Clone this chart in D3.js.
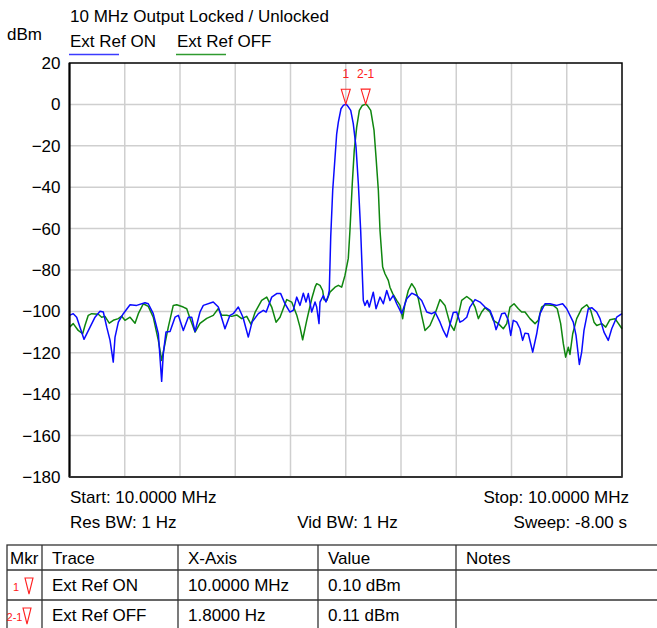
<!DOCTYPE html>
<html>
<head>
<meta charset="utf-8">
<script src="https://cdn.jsdelivr.net/npm/d3@7"></script>
<style>
  html, body { margin: 0; padding: 0; background: #fff; }
  svg { display: block; font-family: "Liberation Sans", Arial, sans-serif; }
</style>
</head>
<body>
<svg id="chart" width="657" height="628"></svg>
<script>
// Spectrum sweep around 10 MHz, frequency given as offset from centre (Hz)
const titleText = "10 MHz Output Locked / Unlocked";
const seriesNames = ["Ext Ref ON", "Ext Ref OFF"];
const seriesColors = ["#0a0aff", "#0f860f"];
const legendColors = ["#3b3bff", "#2f9a2f"];
const yTicks = [20, 0, -20, -40, -60, -80, -100, -120, -140, -160, -180];
const xGridHz = [-25, -20, -15, -10, -5, 0, 5, 10, 15, 20, 25];

// Ext Ref ON (locked)
const onFreq = [-25.0, -24.66, -24.35, -23.69, -23.14, -22.69, -22.24, -21.94, -21.63, -21.33, -21.04, -20.88, -20.58, -20.13,
  -19.52, -18.92, -18.17, -17.87, -17.42, -16.96, -16.66, -16.51, -16.27, -15.90, -15.45, -15.15, -14.70, -14.25, -13.94,
  -13.64, -13.19, -12.89, -11.99, -11.53, -10.93, -10.48, -10.18, -9.72, -9.30, -8.82, -8.48, -7.91, -7.46, -7.20, -6.70,
  -6.25, -5.89, -5.50, -5.05, -4.75, -4.44, -4.14, -3.84, -3.60, -3.39, -3.08, -2.78, -2.63, -2.42, -2.33, -2.03, -1.79,
  -1.58, -1.49, -1.36, -1.18, -0.97, -0.82, -0.67, -0.43, -0.22, 0.0, 0.14, 0.45, 0.68, 0.93, 1.14, 1.35, 1.52, 1.59, 1.74,
  1.95, 2.13, 2.49, 2.74, 3.10, 3.40, 3.71, 4.00, 4.30, 4.61, 5.06, 5.52, 5.97, 6.42, 6.87, 7.33, 7.78, 8.08, 8.53, 8.83,
  9.14, 9.43, 9.73, 10.04, 10.34, 10.64, 10.95, 11.24, 11.70, 12.15, 12.60, 13.05, 13.35, 13.60, 13.81, 14.11, 14.41,
  14.71, 14.93, 15.16, 15.47, 15.77, 16.01, 16.22, 16.52, 16.92, 17.28, 17.58, 18.03, 18.48, 19.09, 19.63, 20.00, 20.59,
  20.84, 21.14, 21.35, 21.56, 21.95, 22.26, 22.71, 23.01, 23.37, 23.76, 24.07, 24.52, 25.0];
const onLevel = [-101.9, -101.1, -102.8, -113.5, -107.6, -102.8, -99.9, -100.3, -107.6, -114.0, -124.5, -112.4, -105.2, -101.1,
  -96.8, -97.1, -95.8, -96.3, -101.1, -110.8, -133.8, -120.4, -110.0, -109.7, -102.8, -101.9, -109.2, -102.8, -102.8,
  -109.7, -100.3, -97.1, -95.5, -97.9, -108.4, -101.9, -101.1, -97.9, -102.8, -112.4, -105.2, -101.1, -99.5, -100.3, -93.1,
  -91.4, -91.4, -96.3, -100.3, -99.5, -93.1, -97.1, -91.2, -95.5, -91.4, -100.3, -95.5, -97.9, -105.9, -95.5, -92.3, -95.5,
  -92.3, -89.9, -64.1, -41.5, -25.5, -14.2, -8.6, -2.1, -0.5, 0.1, -0.5, -2.9, -9.3, -20.6, -38.3, -60.9, -85.0, -94.7, -97.1,
  -94.7, -97.9, -90.7, -98.7, -93.1, -96.3, -89.9, -94.7, -92.3, -96.3, -101.1, -93.9, -91.2, -92.3, -94.7, -100.3, -101.1, -100.3, -105.2, -109.2,
  -112.4, -106.3, -100.5, -100.3, -105.2, -104.3, -102.8, -97.9, -94.3, -95.5, -97.9, -99.5, -103.5, -108.8, -105.9, -101.1, -100.8,
  -104.3, -111.6, -104.3, -105.2, -108.4, -114.0, -110.5, -110.8, -119.7, -110.8, -101.1, -96.3, -96.3, -97.1, -96.3, -98.7, -105.2,
  -111.6, -125.6, -119.7, -109.2, -98.7, -98.2, -100.3, -103.5, -110.0, -114.0, -108.4, -102.8, -101.1];

// Ext Ref OFF (free running)
const offFreq = [-25.0, -24.66, -24.21, -23.81, -23.60, -23.30, -22.99, -22.39, -22.09, -21.79, -21.40, -21.04, -20.58, -20.28,
  -19.98, -19.52, -19.07, -18.77, -18.32, -17.87, -17.42, -16.96, -16.66, -16.36, -16.06, -15.61, -15.30, -14.70, -14.39,
  -14.09, -13.64, -13.19, -12.58, -11.99, -11.53, -11.23, -10.77, -10.32, -9.87, -9.42, -8.96, -8.57, -8.21, -7.61, -7.15,
  -6.70, -6.31, -5.95, -5.34, -4.89, -4.44, -4.14, -3.90, -3.53, -3.08, -2.78, -2.63, -2.33, -2.09, -1.97, -1.72, -1.43,
  -0.97, -0.67, -0.37, -0.07, 0.23, 0.38, 0.59, 0.77, 0.99, 1.23, 1.50, 1.80, 1.95, 2.26, 2.56, 2.74, 2.95, 3.10, 3.34,
  3.55, 3.85, 4.00, 4.25, 4.61, 4.91, 5.15, 5.36, 5.66, 5.97, 6.27, 6.57, 6.87, 7.17, 7.62, 8.08, 8.53, 8.98, 9.43, 9.80,
  10.19, 10.49, 10.95, 11.40, 11.70, 12.00, 12.30, 12.60, 13.05, 13.35, 13.81, 14.26, 14.57, 14.86, 15.23, 15.62, 15.92,
  16.22, 16.67, 17.13, 17.43, 17.73, 18.03, 18.78, 19.14, 19.45, 19.69, 19.90, 20.14, 20.29, 20.54, 20.90, 21.35, 21.81,
  22.17, 22.47, 22.71, 23.16, 23.53, 23.91, 24.37, 25.0];
const offLevel = [-107.6, -105.9, -109.2, -110.8, -106.8, -101.9, -101.1, -101.4, -102.8, -102.4, -105.7, -104.3, -103.5, -102.3,
  -104.3, -102.8, -105.7, -101.1, -96.3, -97.6, -102.8, -114.0, -123.7, -115.6, -107.6, -97.1, -96.8, -97.9, -98.7,
  -103.4, -110.0, -105.8, -103.4, -101.9, -98.6, -101.9, -101.9, -102.4, -101.7, -103.5, -102.4, -106.3, -100.5, -94.7, -93.1,
  -97.9, -105.2, -102.8, -94.3, -95.5, -101.7, -107.6, -113.7, -104.3, -93.9, -88.3, -86.6, -87.4, -89.9, -94.3, -94.7, -90.7,
  -88.3, -87.4, -88.3, -82.6, -74.4, -60.9, -38.3, -22.2, -11.0, -2.9, -0.5, 0.11, -0.5, -2.9, -12.6, -25.5, -41.5, -60.9, -78.6,
  -81.8, -85.0, -88.3, -91.4, -94.7, -97.1, -103.5, -96.3, -89.9, -86.6, -89.0, -93.9, -101.9, -109.2, -106.8, -101.1, -94.3, -97.1, -105.9, -109.2,
  -101.9, -94.7, -92.8, -94.7, -97.9, -103.5, -100.3, -98.2, -100.3, -104.3, -105.9, -108.4, -105.9, -97.9, -96.3, -98.7, -100.3,
  -100.3, -103.5, -105.9, -104.3, -97.9, -96.8, -97.1, -98.7, -105.9, -115.6, -122.1, -117.3, -120.8, -110.8, -103.5, -98.7, -96.8,
  -99.5, -105.2, -106.8, -105.9, -107.6, -104.0, -103.5, -108.4];

// Marker readouts
const markerLabels = ["1", "2-1"];
const markerFreq = [0.0, 1.8];
const markerLevel = [0.10, 0.11];
const tableHeader = ["Mkr", "Trace", "X-Axis", "Value", "Notes"];
const tableRows = [
  ["Ext Ref ON", "10.0000 MHz", "0.10 dBm", ""],
  ["Ext Ref OFF", "1.8000 Hz", "0.11 dBm", ""]
];

const FS = 17;
const FONT = "Liberation Sans, Arial, sans-serif";
const svg = d3.select("#chart");
const plotL = 69.5, plotR = 622, plotT = 63, plotB = 477;
const x = d3.scaleLinear().domain([-25, 25]).range([plotL, plotR]);
const y = d3.scaleLinear().domain([-180, 20]).range([plotB, plotT]);

// Header texts
svg.append("text").attr("x", 70).attr("y", 22).attr("font-size", FS).attr("fill", "#000").text(titleText);
svg.append("text").attr("x", 7).attr("y", 40).attr("font-size", FS).attr("fill", "#000").text("dBm");
const legendX = [70, 177];
const legendW = [49, 49];
seriesNames.forEach((n, i) => {
  svg.append("text").attr("x", legendX[i]).attr("y", 47).attr("font-size", FS).attr("fill", "#000").text(n);
  svg.append("line").attr("x1", legendX[i] - 1).attr("x2", legendX[i] + legendW[i])
    .attr("y1", 54.5).attr("y2", 54.5).attr("stroke", legendColors[i]).attr("stroke-width", 1.6);
});

// Grid
const grid = svg.append("g");
grid.selectAll("line.v").data(xGridHz.slice(1, -1)).join("line")
  .attr("x1", d => x(d)).attr("x2", d => x(d)).attr("y1", plotT).attr("y2", plotB)
  .attr("stroke", "#cfcfcf").attr("stroke-width", 1.5);
grid.selectAll("line.h").data(yTicks.slice(1, -1)).join("line")
  .attr("x1", plotL).attr("x2", plotR).attr("y1", d => y(d)).attr("y2", d => y(d))
  .attr("stroke", "#cfcfcf").attr("stroke-width", 1.5);

// Y axis labels
const yAxis = d3.axisLeft(y).tickValues(yTicks).tickSize(0).tickPadding(9).tickFormat(d3.format("d"));
const ya = svg.append("g").attr("transform", `translate(${plotL},0)`).call(yAxis);
ya.select(".domain").remove();
ya.selectAll("text").attr("font-size", FS).attr("font-family", FONT).attr("fill", "#000");

// Traces
const line = d3.line().x(d => x(d[0])).y(d => y(d[1])).curve(d3.curveLinear);
const traces = [d3.zip(onFreq, onLevel), d3.zip(offFreq, offLevel)];
// draw OFF first so ON sits on top where they overlap
[1, 0].forEach(i => {
  svg.append("path").datum(traces[i]).attr("d", line).attr("fill", "none")
    .attr("stroke", seriesColors[i]).attr("stroke-width", 1.5).attr("stroke-linejoin", "round");
});

// Frame
svg.append("rect").attr("x", plotL).attr("y", plotT).attr("width", plotR - plotL).attr("height", plotB - plotT)
  .attr("fill", "none").attr("stroke", "#000").attr("stroke-width", 1.5);
svg.append("line").attr("x1", plotL).attr("x2", plotL).attr("y1", plotT).attr("y2", plotB).attr("stroke", "#000").attr("stroke-width", 2);
svg.append("line").attr("x1", plotL).attr("x2", plotR).attr("y1", plotB).attr("y2", plotB).attr("stroke", "#333").attr("stroke-width", 2);

// Markers: open red triangles pointing at the peak, label above
markerFreq.forEach((f, i) => {
  const mx = x(f), my = y(markerLevel[i]);
  svg.append("path").attr("d", `M${mx - 4.5},${my - 15}L${mx + 4.5},${my - 15}L${mx},${my}Z`)
    .attr("fill", "none").attr("stroke", "#ff2020").attr("stroke-width", 1.1);
  svg.append("text").attr("x", mx).attr("y", my - 26).attr("text-anchor", "middle")
    .attr("font-size", 12).attr("font-family", FONT).attr("fill", "#ff2020").text(markerLabels[i]);
});

// Sweep settings
const info = svg.append("g").attr("font-size", FS).attr("fill", "#000");
info.append("text").attr("x", 70).attr("y", 503).text("Start: 10.0000 MHz");
info.append("text").attr("x", 629).attr("y", 503).attr("text-anchor", "end").text("Stop: 10.0000 MHz");
info.append("text").attr("x", 70).attr("y", 528).text("Res BW: 1 Hz");
info.append("text").attr("x", 347.5).attr("y", 528).attr("text-anchor", "middle").text("Vid BW: 1 Hz");
info.append("text").attr("x", 627).attr("y", 528).attr("text-anchor", "end").text("Sweep: -8.00 s");

// Marker table
const colX = [7, 42, 178, 318, 456, 657];
const rowY = [545, 570, 600, 630];
const tbl = svg.append("g");
tbl.append("rect").attr("x", colX[0]).attr("y", rowY[0]).attr("width", 700).attr("height", 100)
  .attr("fill", "none").attr("stroke", "#333").attr("stroke-width", 1.3);
colX.slice(1, -1).forEach(cx => tbl.append("line").attr("x1", cx).attr("x2", cx).attr("y1", rowY[0]).attr("y2", 640)
  .attr("stroke", "#333").attr("stroke-width", 1.3));
rowY.slice(1).forEach(ry => tbl.append("line").attr("x1", colX[0]).attr("x2", 657).attr("y1", ry).attr("y2", ry)
  .attr("stroke", "#333").attr("stroke-width", 1.3));
tableHeader.forEach((h, i) => {
  tbl.append("text").attr("x", colX[i] + (i === 0 ? 3 : 10)).attr("y", rowY[0] + 19)
    .attr("font-size", FS).attr("fill", "#000").text(h);
});
const mkrTriX = [25, 23];
tableRows.forEach((r, ri) => {
  const rowTop = rowY[ri + 1];
  const ty = rowTop + 21;
  r.forEach((c, ci) => {
    tbl.append("text").attr("x", colX[ci + 1] + 10).attr("y", ty).attr("font-size", FS).attr("fill", "#000").text(c);
  });
  // marker symbol in the Mkr column
  const tx = mkrTriX[ri];
  tbl.append("text").attr("x", tx - (ri === 0 ? 6 : 0.5)).attr("y", rowTop + 21).attr("text-anchor", "end")
    .attr("font-size", 11).attr("font-family", FONT).attr("fill", "#ff2020").text(markerLabels[ri]);
  tbl.append("path").attr("d", `M${tx},${rowTop + 8}L${tx + 8},${rowTop + 8}L${tx + 4},${rowTop + 24}Z`)
    .attr("fill", "none").attr("stroke", "#ff2020").attr("stroke-width", 1.1);
});
</script>
</body>
</html>
